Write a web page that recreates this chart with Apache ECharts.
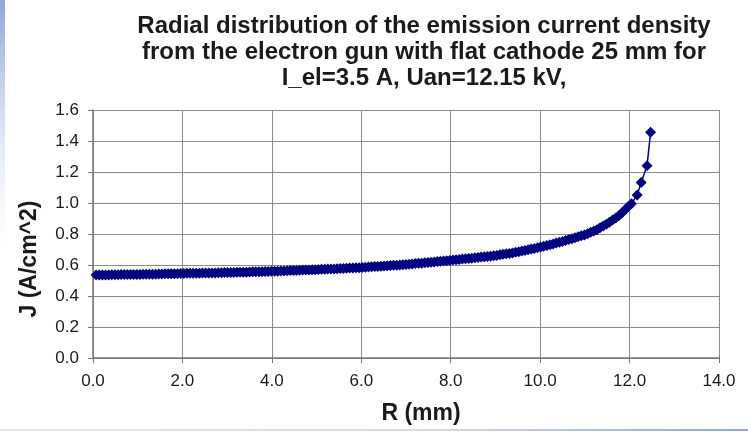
<!DOCTYPE html>
<html>
<head>
<meta charset="utf-8">
<script src="https://cdn.jsdelivr.net/npm/echarts@6/dist/echarts.min.js"></script>
<style>
html,body{margin:0;padding:0;background:#fff;}
#chart{width:748px;height:433px;}
</style>
</head>
<body>
<div id="chart"></div>
<script>
const titleLines = [
  'Radial distribution of the emission current density',
  'from the electron gun with flat cathode 25 mm for',
  'I_el=3.5 A, Uan=12.15 kV,'
];
const xAxisTitle = 'R (mm)';
const yAxisTitle = 'J (A/cm^2)';
const xTicks = [0, 2, 4, 6, 8, 10, 12, 14];
const yTicks = [0, 0.2, 0.4, 0.6, 0.8, 1.0, 1.2, 1.4, 1.6];

const rValues = [
  0.07,0.14,0.21,0.28,0.35,0.42,0.49,0.56,0.63,0.70,0.77,0.84,0.91,0.98,
  1.05,1.12,1.19,1.26,1.33,1.40,1.47,1.54,1.61,1.68,1.75,1.82,1.89,1.96,
  2.03,2.10,2.17,2.24,2.31,2.38,2.45,2.52,2.59,2.66,2.73,2.80,2.87,2.94,
  3.01,3.08,3.15,3.22,3.29,3.36,3.43,3.50,3.57,3.64,3.71,3.78,3.85,3.92,3.99,
  4.06,4.13,4.20,4.27,4.34,4.41,4.48,4.55,4.62,4.69,4.76,4.83,4.90,4.97,
  5.04,5.11,5.18,5.25,5.32,5.39,5.46,5.53,5.60,5.67,5.74,5.81,5.88,5.95,
  6.02,6.09,6.16,6.23,6.30,6.37,6.44,6.51,6.58,6.65,6.72,6.79,6.86,6.93,
  7.00,7.07,7.14,7.21,7.28,7.35,7.42,7.49,7.56,7.63,7.70,7.77,7.84,7.91,7.98,
  8.05,8.12,8.19,8.26,8.33,8.40,8.47,8.54,8.61,8.68,8.75,8.82,8.89,8.96,
  9.03,9.10,9.17,9.24,9.31,9.38,9.45,9.52,9.59,9.66,9.73,9.80,9.87,9.94,
  10.01,10.08,10.15,10.22,10.29,10.36,10.43,10.50,10.57,10.64,10.71,10.78,10.85,10.92,10.99,
  11.06,11.13,11.20,11.27,11.34,11.41,11.48,11.55,11.62,11.69,11.76,11.83,11.90,11.97,
  12.04,12.17,12.26,12.39,12.47
];
const jValues = [
  0.535,0.536,0.536,0.536,0.536,0.537,0.537,0.537,0.538,0.538,0.538,0.538,0.539,0.539,
  0.539,0.540,0.540,0.541,0.541,0.541,0.542,0.542,0.543,0.543,0.544,0.544,0.544,0.545,
  0.545,0.546,0.546,0.546,0.547,0.547,0.548,0.548,0.549,0.549,0.549,0.550,0.550,0.551,
  0.551,0.552,0.552,0.553,0.553,0.554,0.554,0.555,0.556,0.556,0.557,0.557,0.558,0.558,0.559,
  0.560,0.560,0.561,0.562,0.563,0.564,0.564,0.565,0.566,0.567,0.567,0.568,0.569,0.570,
  0.571,0.572,0.573,0.574,0.574,0.575,0.576,0.577,0.578,0.579,0.580,0.581,0.582,0.583,
  0.584,0.586,0.587,0.588,0.590,0.591,0.592,0.594,0.595,0.596,0.598,0.599,0.600,0.602,
  0.603,0.605,0.607,0.609,0.611,0.612,0.614,0.616,0.618,0.620,0.622,0.624,0.626,0.628,0.629,
  0.632,0.634,0.636,0.638,0.640,0.642,0.644,0.646,0.649,0.651,0.653,0.655,0.657,0.660,
  0.662,0.666,0.669,0.672,0.675,0.678,0.682,0.685,0.690,0.694,0.698,0.703,0.707,0.711,
  0.716,0.721,0.726,0.731,0.736,0.742,0.747,0.752,0.758,0.764,0.770,0.776,0.782,0.788,0.794,
  0.802,0.811,0.819,0.828,0.840,0.851,0.863,0.876,0.890,0.903,0.918,0.937,0.957,0.977,
  0.995,1.051,1.133,1.240,1.456
];

const seriesData = rValues.map((r, i) => [r, jValues[i]]);
const fontFam = '"Liberation Sans", Arial, Helvetica, sans-serif';

const chart = echarts.init(document.getElementById('chart'), null, {renderer: 'canvas'});
chart.setOption({
  backgroundColor: '#ffffff',
  animation: false,
  title: {
    text: titleLines.join('\n'),
    left: 419,
    top: 8,
    textAlign: 'center',
    textStyle: {
      fontFamily: fontFam,
      fontSize: 24,
      fontWeight: 'bold',
      lineHeight: 26,
      color: '#1a1a1a'
    }
  },
  graphic: [
    {
      type: 'rect', left: 0, top: 0, silent: true,
      shape: {width: 5, height: 250},
      style: {fill: new echarts.graphic.LinearGradient(0, 0, 0, 1, [
        {offset: 0, color: '#8ea6d9'}, {offset: 1, color: 'rgba(220,228,245,0)'}
      ])}
    },
    {
      type: 'rect', left: 0, top: 429, silent: true,
      shape: {width: 748, height: 2},
      style: {fill: new echarts.graphic.LinearGradient(0, 0, 1, 0, [
        {offset: 0, color: '#e6e6e6'}, {offset: 0.55, color: '#dcdcdc'}, {offset: 1, color: '#8ea6d9'}
      ])}
    }
  ],
  grid: {left: 93, right: 29, top: 110, bottom: 75, containLabel: false},
  xAxis: {
    type: 'value',
    min: 0, max: 14, interval: 2,
    name: xAxisTitle,
    nameLocation: 'middle',
    nameGap: 44,
    nameTextStyle: {fontFamily: fontFam, fontSize: 23, fontWeight: 'bold', color: '#1a1a1a', padding: [0, 0, 0, 30]},
    axisLine: {show: true, lineStyle: {color: '#777', width: 1.5}},
    axisTick: {show: true, inside: false, length: 5, lineStyle: {color: '#777'}},
    axisLabel: {fontFamily: fontFam, fontSize: 17, color: '#1a1a1a', margin: 15, formatter: v => v.toFixed(1)},
    splitLine: {show: true, lineStyle: {color: '#8c8c8c', width: 1}}
  },
  yAxis: {
    type: 'value',
    min: 0, max: 1.6, interval: 0.2,
    name: yAxisTitle,
    nameLocation: 'middle',
    nameRotate: 90,
    nameGap: 52,
    nameTextStyle: {fontFamily: fontFam, fontSize: 23, fontWeight: 'bold', color: '#1a1a1a', padding: [0, 50, 0, 0]},
    axisLine: {show: true, lineStyle: {color: '#777', width: 1.5}},
    axisTick: {show: true, inside: false, length: 5, lineStyle: {color: '#777'}},
    axisLabel: {fontFamily: fontFam, fontSize: 17, color: '#1a1a1a', margin: 14, formatter: v => v.toFixed(1)},
    splitLine: {show: true, lineStyle: {color: '#8c8c8c', width: 1}}
  },
  series: [{
    type: 'line',
    data: seriesData,
    symbol: 'diamond',
    symbolSize: 11,
    showAllSymbol: true,
    lineStyle: {color: '#000080', width: 1.5},
    itemStyle: {color: '#000080'},
    clip: false
  }]
});
</script>
</body>
</html>
